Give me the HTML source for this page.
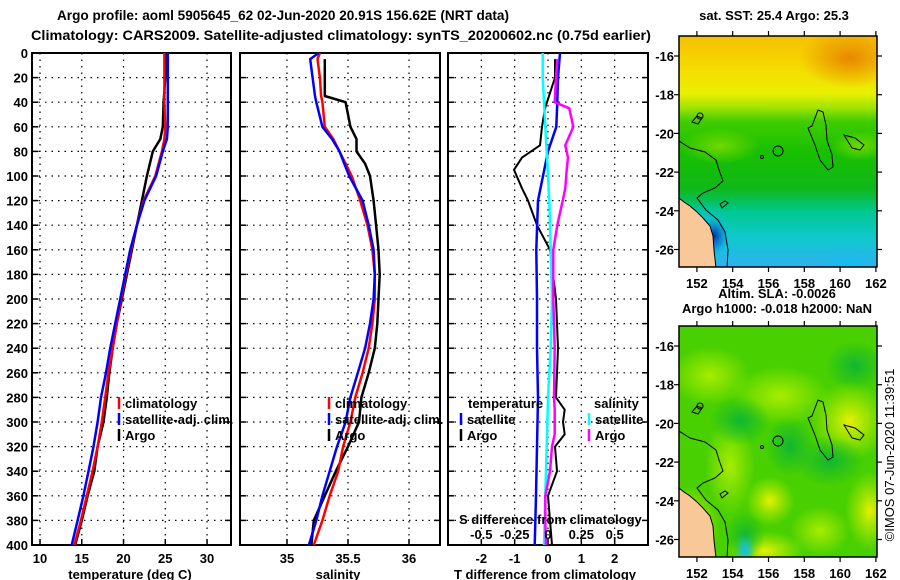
<!DOCTYPE html>
<html><head><meta charset="utf-8">
<style>
html,body{margin:0;padding:0;background:#fff;}
svg{display:block;font-family:"Liberation Sans",sans-serif;font-weight:bold;}
</style></head>
<body>
<svg id="chart" width="900" height="580" viewBox="0 0 900 580" xmlns="http://www.w3.org/2000/svg">
<defs>
<linearGradient id="sstGrad" x1="0" y1="0" x2="0" y2="1">
<stop offset="0" stop-color="#f5c000"/><stop offset="0.15" stop-color="#f5dc00"/><stop offset="0.25" stop-color="#e8f000"/>
<stop offset="0.31" stop-color="#a0e400"/><stop offset="0.37" stop-color="#40cc00"/><stop offset="0.5" stop-color="#18c000"/><stop offset="0.66" stop-color="#10b818"/>
<stop offset="0.76" stop-color="#00c890"/><stop offset="0.88" stop-color="#10c8d0"/><stop offset="1" stop-color="#30b0f0"/>
</linearGradient>
<radialGradient id="orangeSpot" cx="0.5" cy="0.5" r="0.5"><stop offset="0" stop-color="#e88800"/><stop offset="1" stop-color="#e88800" stop-opacity="0"/></radialGradient>
<radialGradient id="yellowBlob" cx="0.5" cy="0.5" r="0.5"><stop offset="0" stop-color="#e8f000"/><stop offset="1" stop-color="#c0f000" stop-opacity="0"/></radialGradient>
<radialGradient id="lightBlob" cx="0.5" cy="0.5" r="0.5"><stop offset="0" stop-color="#a8ec00"/><stop offset="1" stop-color="#a8ec00" stop-opacity="0"/></radialGradient>
<radialGradient id="darkBlob" cx="0.5" cy="0.5" r="0.5"><stop offset="0" stop-color="#10b830"/><stop offset="1" stop-color="#10b830" stop-opacity="0"/></radialGradient>
<radialGradient id="cyanBlob" cx="0.5" cy="0.5" r="0.5"><stop offset="0" stop-color="#10c0f0"/><stop offset="1" stop-color="#10c0f0" stop-opacity="0"/></radialGradient>
<radialGradient id="blueBlob" cx="0.5" cy="0.5" r="0.5"><stop offset="0" stop-color="#0030a0"/><stop offset="1" stop-color="#1060e0" stop-opacity="0"/></radialGradient>
<radialGradient id="lgBlob" cx="0.5" cy="0.5" r="0.5"><stop offset="0" stop-color="#70d800"/><stop offset="1" stop-color="#70d800" stop-opacity="0"/></radialGradient>
<clipPath id="clip1"><rect x="679" y="36" width="198" height="231"/></clipPath>
<clipPath id="clip2"><rect x="679" y="326" width="198" height="231"/></clipPath>
</defs>
<g id="root"></g>
</svg>
<script>
// ---------- data ----------
const depths = [0,20,40,60,70,80,100,120,140,160,180,200,220,240,260,280,300,320,340,360,380,400];
const tempClim = [24.9,24.9,24.9,25.0,24.9,24.6,23.8,22.4,21.6,20.9,20.3,19.7,19.2,18.7,18.2,17.8,17.4,16.9,16.3,15.6,14.9,14.1];
const tempSat  = [25.3,25.3,25.3,25.3,25.2,24.7,23.9,22.5,21.6,20.8,20.2,19.6,19.0,18.4,17.9,17.3,16.9,16.4,15.8,15.2,14.5,13.8];
const tempArgo = [25.0,25.0,24.8,24.7,24.4,23.5,22.8,22.2,21.6,21.0,20.4,19.8,19.2,18.7,18.3,18.0,17.6,16.9,16.5,15.7,15.0,14.2];
const salDepths = [0,5,20,35,40,60,70,80,90,100,120,140,160,180,200,220,240,260,280,300,320,340,360,380,400];
const salClim = [35.27,35.25,35.27,35.28,35.29,35.31,35.38,35.43,35.48,35.53,35.60,35.66,35.70,35.72,35.72,35.70,35.67,35.62,35.56,35.52,35.46,35.42,35.35,35.29,35.22];
const salSat  = [35.26,35.19,35.21,35.23,35.24,35.29,35.37,35.43,35.47,35.51,35.62,35.67,35.71,35.72,35.71,35.68,35.64,35.58,35.52,35.48,35.41,35.35,35.29,35.24,35.18];
const salArgo = [null,35.31,35.31,35.31,35.48,35.52,35.57,35.57,35.64,35.68,35.71,35.73,35.75,35.76,35.75,35.74,35.72,35.67,35.61,35.59,35.50,35.40,35.31,35.22,35.20];
const diffSatDepths = [0,20,40,60,80,100,120,160,200,240,280,320,360,400];
const tDiffSat = [0.36,0.30,0.28,0.25,0.0,-0.15,-0.30,-0.35,-0.33,-0.33,-0.30,-0.33,-0.36,-0.40];
const sDiffSat = [-0.04,-0.04,-0.03,-0.02,-0.01,0.0,0.01,0.02,0.03,0.02,0.0,-0.01,-0.02,-0.03];
const diffArgoDepths = [5,20,40,45,60,75,85,95,110,120,140,160,200,240,280,290,300,310,320,340,360,380,400];
const tDiffArgo = [0.21,0.21,-0.03,-0.09,-0.18,-0.24,-0.78,-1.02,-0.78,-0.60,-0.33,0.06,0.24,0.30,0.24,0.50,0.45,0.50,0.21,0.27,0.0,0.06,0.12];
const sDiffArgo = [0.07,0.06,0.05,0.16,0.19,0.13,0.15,0.14,0.13,0.11,0.07,0.04,0.04,0.05,0.045,0.05,0.05,0.05,0.03,0.015,-0.02,-0.02,-0.015];
const depthTicks = [0,20,40,60,80,100,120,140,160,180,200,220,240,260,280,300,320,340,360,380,400];
const tempTicks = [10,15,20,25,30];
const salTicks = [35,35.5,36];
const salTickLabels = ["35","35.5","36"];
const tDiffTicks = [-2,-1,0,1,2];
const sDiffTicks = [-0.5,-0.25,0,0.25,0.5];
const sDiffTickLabels = ["-0.5","-0.25","0","0.25","0.5"];
const lonTicks = [152,154,156,158,160,162];
const latTicks = [-16,-18,-20,-22,-24,-26];

// ---------- helpers ----------
const NS="http://www.w3.org/2000/svg";
const root=document.getElementById('root');
function mk(tag,attrs,parent,text){const e=document.createElementNS(NS,tag);for(const k in attrs)e.setAttribute(k,attrs[k]);if(text!==undefined)e.textContent=text;(parent||root).appendChild(e);return e;}
const Y0=53, Y1=545;
function yD(d){return Y0+(d/400)*(Y1-Y0);}
function linX(x0,x1,v0,v1){return v=>x0+(v-v0)/(v1-v0)*(x1-x0);}

const panels=[
 {name:'temperature-panel',x0:32,x1:231,sc:linX(32,231,9.04,32.87),ticks:tempTicks,labels:tempTicks.map(String),title:'temperature (deg C)',titleX:130},
 {name:'salinity-panel',x0:240,x1:440,sc:linX(240,440,34.615,36.254),ticks:salTicks,labels:salTickLabels,title:'salinity',titleX:338},
 {name:'difference-panel',x0:448,x1:648,sc:linX(448,648,-3,3),ticks:tDiffTicks,labels:tDiffTicks.map(String),title:'T difference from climatology',titleX:545}
];

panels.forEach((p,i)=>{
  const g=mk('g',{});
  
  
  mk('rect',{x:p.x0,y:Y0,width:p.x1-p.x0,height:Y1-Y0,fill:'#fff',stroke:'#000','stroke-width':2},g);
  depthTicks.forEach(d=>{
    if(d>0&&d<400){const l=mk('line',{x1:p.x0,x2:p.x1,y1:yD(d),y2:yD(d),stroke:'#000','stroke-width':1.2,'stroke-dasharray':'1.5,5'},g);
      }
    mk('line',{x1:p.x0,x2:p.x0+6,y1:yD(d),y2:yD(d),stroke:'#000','stroke-width':1.5},g);
    mk('line',{x1:p.x1-6,x2:p.x1,y1:yD(d),y2:yD(d),stroke:'#000','stroke-width':1.5},g);
    if(i===0){const t=mk('text',{x:28,y:yD(d)+5,'text-anchor':'end','font-size':13},g,String(d));
      }
  });
  p.ticks.forEach((v,k)=>{
    const x=p.sc(v);
    const l=mk('line',{x1:x,x2:x,y1:Y0,y2:Y1,stroke:'#000','stroke-width':1.2,'stroke-dasharray':'1.5,5'},g);
    
    mk('line',{x1:x,x2:x,y1:Y1-6,y2:Y1,stroke:'#000','stroke-width':1.5},g);
    const t=mk('text',{x:x,y:563,'text-anchor':'middle','font-size':13},g,p.labels[k]);
    
  });
  const tt=mk('text',{x:p.titleX,y:579,'text-anchor':'middle','font-size':13},g,p.title);
  
  p.g=g;
});

function series(g,xs,ds,sc,color,w,name){
  let pts=[];
  xs.forEach((v,k)=>{if(v!==null)pts.push(sc(v).toFixed(1)+','+yD(ds[k]).toFixed(1));});
  const pl=mk('polyline',{points:pts.join(' '),fill:'none',stroke:color,'stroke-width':w,'stroke-linejoin':'round'},g);
  
  
}
series(panels[0].g,tempArgo,depths,panels[0].sc,'#000',2.5,'argo-temperature-line');
series(panels[0].g,tempClim,depths,panels[0].sc,'#f00',2.5,'climatology-temperature-line');
series(panels[0].g,tempSat,depths,panels[0].sc,'#00f',2.5,'satellite-temperature-line');
series(panels[1].g,salArgo,salDepths,panels[1].sc,'#000',2.5,'argo-salinity-line');
series(panels[1].g,salClim,salDepths,panels[1].sc,'#f00',2.5,'climatology-salinity-line');
series(panels[1].g,salSat,salDepths,panels[1].sc,'#00f',2.5,'satellite-salinity-line');
const sDiffSc=linX(448,648,-0.75,0.75);
series(panels[2].g,tDiffArgo,diffArgoDepths,panels[2].sc,'#000',2,'argo-temperature-difference-line');
series(panels[2].g,tDiffSat,diffSatDepths,panels[2].sc,'#00f',2.5,'satellite-temperature-difference-line');
series(panels[2].g,sDiffSat,diffSatDepths,sDiffSc,'#0ff',2.5,'satellite-salinity-difference-line');
series(panels[2].g,sDiffArgo,diffArgoDepths,sDiffSc,'#f0f',2.5,'argo-salinity-difference-line');

// secondary S axis labels
const sg=mk('g',{});


mk('text',{x:459,y:524,'font-size':13},sg,'S difference from climatology');
sDiffTicks.forEach((v,k)=>{const t=mk('text',{x:sDiffSc(v),y:539,'text-anchor':'middle','font-size':13},sg,sDiffTickLabels[k]);
  });

// legends
function legend(x,y,color,label,name){
  const g=mk('g',{});
  
  
  if(color)mk('line',{x1:x,x2:x,y1:y-11,y2:y+1,stroke:color,'stroke-width':2.5},g);
  mk('text',{x:x+(color?6:0),y:y,'font-size':13},g,label);
}
legend(119,408,'#f00','climatology','legend-climatology');
legend(119,424,'#00f','satellite-adj. clim.','legend-satellite-adj');
legend(119,440,'#000','Argo','legend-argo');
legend(329,408,'#f00','climatology','legend-climatology-salinity');
legend(329,424,'#00f','satellite-adj. clim.','legend-satellite-adj-salinity');
legend(329,440,'#000','Argo','legend-argo-salinity');
legend(468,408,null,'temperature','legend-temperature-header');
legend(461,424,'#00f','satellite','legend-temperature-satellite');
legend(461,440,'#000','Argo','legend-temperature-argo');
legend(594,408,null,'salinity','legend-salinity-header');
legend(589,424,'#0ff','satellite','legend-salinity-satellite');
legend(589,440,'#f0f','Argo','legend-salinity-argo');

// titles
const t1=mk('text',{x:283,y:20,'text-anchor':'middle','font-size':14,textLength:452,lengthAdjust:'spacingAndGlyphs'},root,'Argo profile: aoml 5905645_62 02-Jun-2020 20.91S 156.62E (NRT data)');

const t2=mk('text',{x:341,y:40,'text-anchor':'middle','font-size':14,textLength:620,lengthAdjust:'spacingAndGlyphs'},root,'Climatology: CARS2009. Satellite-adjusted climatology: synTS_20200602.nc (0.75d earlier)');


// ---------- maps ----------
function lonX(l){return 679+(l-151)*17.9;}
function drawMap(top,name,isSst,title,clip){
  const g=mk('g',{'clip-path':'url(#'+clip+')'});
  
  
  if(isSst){
    mk('rect',{x:679,y:top,width:198,height:231,fill:'url(#sstGrad)'},g);
    mk('ellipse',{cx:850,cy:top+22,rx:50,ry:30,fill:'url(#orangeSpot)'},g);
    mk('ellipse',{cx:705,cy:top+200,rx:28,ry:35,fill:'url(#cyanBlob)'},g);
    mk('ellipse',{cx:714,cy:top+200,rx:14,ry:18,fill:'url(#blueBlob)'},g);
    mk('ellipse',{cx:850,cy:top+230,rx:30,ry:15,fill:'url(#cyanBlob)'},g);
    mk('ellipse',{cx:720,cy:top+110,rx:40,ry:18,fill:'url(#lgBlob)'},g);
    mk('ellipse',{cx:860,cy:top+110,rx:30,ry:15,fill:'url(#lgBlob)'},g);
  } else {
    mk('rect',{x:679,y:top,width:198,height:231,fill:'#48d000'},g);
    [[710,50,40,30,'lightBlob'],[780,70,50,30,'lightBlob'],[850,95,40,40,'yellowBlob'],[770,175,25,25,'yellowBlob'],
     [870,185,25,40,'yellowBlob'],[765,225,40,20,'yellowBlob'],[690,200,30,40,'yellowBlob'],[730,140,25,50,'lightBlob'],
     [820,205,30,25,'lightBlob'],[740,95,30,25,'darkBlob'],[830,135,35,25,'darkBlob'],[790,120,25,30,'darkBlob'],
     [855,40,30,25,'darkBlob'],[745,210,20,25,'darkBlob'],[800,250,20,10,'darkBlob'],[745,225,10,18,'cyanBlob']].forEach(b=>{
      mk('ellipse',{cx:b[0],cy:top+b[1],rx:b[2],ry:b[3],fill:'url(#'+b[4]+')'},g);
    });
  }
  const cg=mk('g',{transform:'translate(0,'+(top-36)+')'},g);
  mk('path',{d:'M679,198 L684,202 L690,206 L697,212 L703,218 L710,226 L713,236 L714,250 L716,268 L679,268 Z',fill:'#f8c898',stroke:'#000','stroke-width':1},cg);
  mk('path',{d:'M679,141 L690,148 L705,152 L716,160 L719,170 L723,181 L715,188 L703,193 L697,198 L706,210 L718,220 L725,232 L728,250 L727,268',fill:'none',stroke:'#000','stroke-width':1},cg);
  mk('path',{d:'M812,126 L818,110 L823,112 L826,125 L827,140 L832,155 L833,167 L828,170 L820,160 L815,145 L808,128 Z',fill:'none',stroke:'#000','stroke-width':1},cg);
  mk('path',{d:'M844,135 L855,138 L864,145 L860,150 L852,148 Z',fill:'none',stroke:'#000','stroke-width':1},cg);
  mk('path',{d:'M692,122 L697,116 L702,118 L698,124 Z',fill:'none',stroke:'#000','stroke-width':1},cg);
  mk('path',{d:'M720,204 L725,201 L728,203 L722,208 Z',fill:'none',stroke:'#000','stroke-width':1},cg);
  mk('circle',{cx:778,cy:151,r:5,fill:'none',stroke:'#000','stroke-width':1},cg);
  mk('circle',{cx:700,cy:116,r:3,fill:'none',stroke:'#000','stroke-width':1},cg);
  mk('circle',{cx:762,cy:157,r:1.5,fill:'none',stroke:'#000','stroke-width':1},cg);
  const fr=mk('g',{});
  
  
  mk('rect',{x:679,y:top,width:198,height:231,fill:'none',stroke:'#000','stroke-width':1.5},fr);
  lonTicks.forEach(l=>{const x=lonX(l);
    mk('line',{x1:x,x2:x,y1:top,y2:top-5,stroke:'#000','stroke-width':1.2},fr);
    mk('line',{x1:x,x2:x,y1:top+231,y2:top+236,stroke:'#000','stroke-width':1.2},fr);
    const t=mk('text',{x:x,y:top+252,'text-anchor':'middle','font-size':13},fr,String(l));
    
  });
  latTicks.forEach(la=>{const y=top+20+(-16-la)*19.35;
    mk('line',{x1:877,x2:882,y1:y,y2:y,stroke:'#000','stroke-width':1.2},fr);
    mk('line',{x1:679,x2:674,y1:y,y2:y,stroke:'#000','stroke-width':1.2},fr);
    const t=mk('text',{x:674,y:y+5,'text-anchor':'end','font-size':13},fr,String(la));
    
  });
  if(title){const t=mk('text',{x:774,y:top-16,'text-anchor':'middle','font-size':13},fr,title);
    }
}
drawMap(36,'sst-map',true,'sat. SST: 25.4 Argo: 25.3','clip1');
drawMap(326,'sla-map',false,null,'clip2');
const a1=mk('text',{x:777,y:298,'text-anchor':'middle','font-size':13},root,'Altim. SLA: -0.0026');

const a2=mk('text',{x:777,y:313,'text-anchor':'middle','font-size':13},root,'Argo h1000: -0.018 h2000: NaN');

const cp=mk('text',{x:0,y:0,'text-anchor':'middle','font-size':13,'font-weight':'normal',transform:'translate(894,455) rotate(-90)'},root,'©IMOS 07-Jun-2020 11:39:51');

</script>
</body></html>
